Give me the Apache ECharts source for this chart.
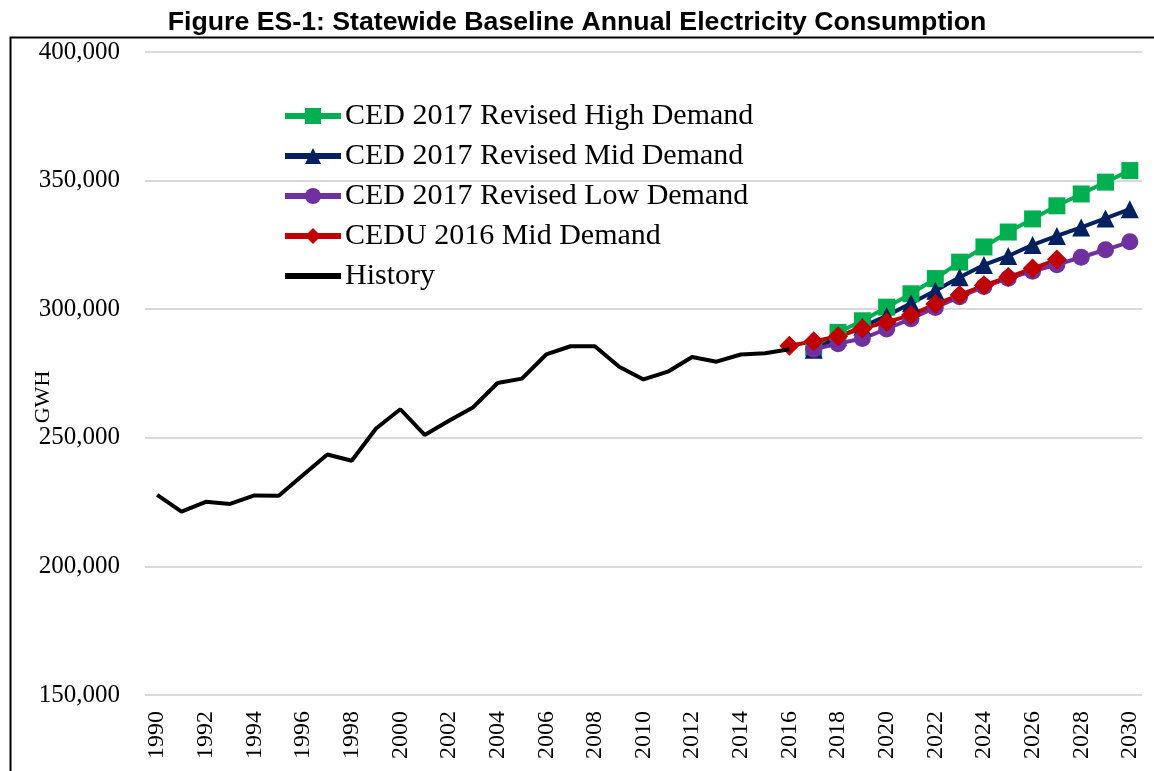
<!DOCTYPE html>
<html><head><meta charset="utf-8">
<script src="https://cdn.jsdelivr.net/npm/echarts@6/dist/echarts.min.js"></script>
<style>html,body{margin:0;padding:0;background:#fff}#c{width:1154px;height:771px}</style>
</head><body><div id="c"></div>
<script>
const years = [];
for (let y = 1990; y <= 2030; y++) years.push(String(y));
const history = [227800,221300,225100,224300,227600,227500,235500,243500,241100,253600,261100,251100,256600,261900,271300,273000,282400,285600,285600,277600,272700,275700,281400,279600,282400,282900,284400];
const cedu2016Mid = [285800,287500,289500,292500,295000,297700,302000,305500,309300,312500,315800,319300];
const ced2017High = [284800,291000,295500,300800,306000,311900,318300,324200,330000,335100,340200,344800,349400,353900];
const ced2017Mid = [284200,289100,293200,297400,302300,307200,312400,317200,320700,325000,328500,331800,335300,338900];
const ced2017Low = [284400,286600,288600,292300,296300,300700,304800,308800,312000,314800,317300,320200,323100,326200];
const yTicks = [150000,200000,250000,300000,350000,400000];

function pad(arr, startYear) {
  const out = [];
  for (let y = 1990; y <= 2030; y++) {
    const i = y - startYear;
    out.push(i >= 0 && i < arr.length ? arr[i] : null);
  }
  return out;
}

const chart = echarts.init(document.getElementById('c'), null, {renderer: 'canvas'});
const serif = '"Liberation Serif", "DejaVu Serif", serif';
const mk = (name, color, symbol, size, data, start) => ({
  name, type: 'line', data: pad(data, start), symbol, symbolSize: size,
  showAllSymbol: true, connectNulls: false,
  lineStyle: {color, width: 4}, itemStyle: {color}, emphasis: {disabled: true}, z: 2
});
chart.setOption({
  animation: false,
  title: {
    text: 'Figure ES-1: Statewide Baseline Annual Electricity Consumption',
    left: 'center', top: 4,
    textStyle: {fontFamily: '"Liberation Sans", Arial, sans-serif', fontWeight: 'bold', fontSize: 26.7, color: '#000'}
  },
  graphic: [{
    type: 'rect', left: 8, top: 35, shape: {width: 1160, height: 760},
    style: {fill: 'none', stroke: '#000', lineWidth: 2}, silent: true
  }, {
    type: 'text', x: 43, y: 397, rotation: Math.PI / 2,
    style: {text: 'GWH', fontFamily: serif, fontSize: 22, fill: '#000', align: 'center', verticalAlign: 'middle'},
    silent: true
  }],
  legend: {
    orient: 'vertical', left: 277, top: 94,
    itemWidth: 56, itemHeight: 20, itemGap: 6,
    textStyle: {fontFamily: serif, fontSize: 30, color: '#000', lineHeight: 34, padding: [0, 0, 0, -1]},
    lineStyle: {width: 6},
    data: ['CED 2017 Revised High Demand','CED 2017 Revised Mid Demand','CED 2017 Revised Low Demand','CEDU 2016 Mid Demand',
      {name: 'History', itemStyle: {opacity: 0}}]
  },
  grid: {left: 145, right: 12, top: 52, bottom: 76, containLabel: false, outerBoundsMode: 'none'},
  xAxis: {
    type: 'category', data: years, boundaryGap: true,
    axisLine: {show: false}, axisTick: {show: false},
    axisLabel: {interval: 1, rotate: 90, margin: 16, fontFamily: serif, fontSize: 24, color: '#000'}
  },
  yAxis: {
    type: 'value', min: yTicks[0], max: yTicks[yTicks.length-1], interval: 50000,
    axisLine: {show: false}, axisTick: {show: false},
    axisLabel: {margin: 25, fontFamily: serif, fontSize: 25, color: '#000',
      formatter: v => v.toLocaleString('en-US')},
    splitLine: {lineStyle: {color: '#d9d9d9', width: 2}}
  },
  series: [
    mk('CED 2017 Revised High Demand', '#00b050', 'rect', 17, ced2017High, 2017),
    mk('CED 2017 Revised Mid Demand', '#002060', 'triangle', 18, ced2017Mid, 2017),
    mk('CED 2017 Revised Low Demand', '#7030a0', 'circle', 17, ced2017Low, 2017),
    mk('CEDU 2016 Mid Demand', '#c00000', 'diamond', 20, cedu2016Mid, 2016),
    {name: 'History', type: 'line', data: pad(history, 1990), symbol: 'none',
     lineStyle: {color: '#000', width: 4}, itemStyle: {color: '#000'}, emphasis: {disabled: true}, z: 3}
  ]
});
</script></body></html>
